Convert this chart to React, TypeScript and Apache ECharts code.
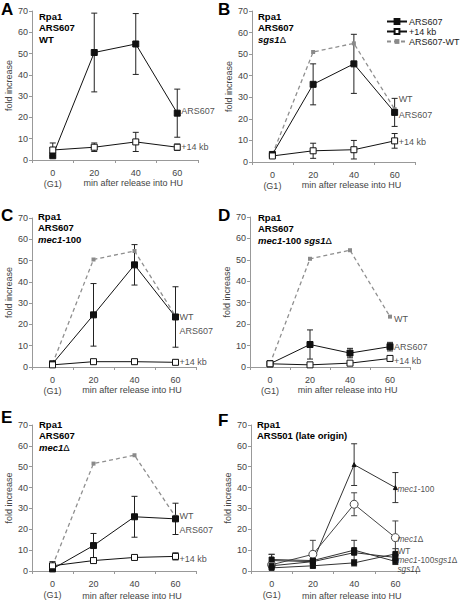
import React, { useEffect, useRef } from 'react';
import * as echarts from 'echarts';

const FONT = '"Liberation Sans", Arial, sans-serif';
const categories = ['0', '20', '40', '60'];

// Panel A (WT)
const aArs = [2, 50.5, 54.5, 22];
const aArsErr = [0, 18.5, 14.3, 11.3];
const aKb = [4.7, 6, 8.5, 6];
const aKbErr = [3.3, 2, 4.5, 1.5];

// Panel B (sgs1Δ)
const bArs = [3.5, 36, 45.5, 23];
const bArsErr = [0.5, 9.5, 13.7, 6.5];
const bKb = [2.8, 5.2, 5.7, 9.8];
const bKbErr = [0.7, 3.5, 4.3, 3.4];
const bWT = [3.5, 51, 55, 24.5];

// Panel C (mec1-100)
const cArs = [1.5, 24.5, 48, 23.5];
const cArsErr = [0.5, 14.7, 9.5, 14.2];
const cKb = [1, 2.5, 2.5, 2.2];
const cKbErr = [0.7, 1, 1, 1];
const cWT = [1.5, 50.5, 54.5, 24];

// Panel D (mec1-100 sgs1Δ)
const dArs = [1.5, 10.5, 6.5, 9.5];
const dArsErr = [0.3, 6.8, 2.2, 2];
const dKb = [1.5, 1, 1.8, 4];
const dKbErr = [0.3, 0.5, 0.5, 0.5];
const dWT = [1.5, 50.5, 54.5, 23.5];

// Panel E (mec1Δ)
const eArs = [1, 12.2, 26, 25];
const eArsErr = [0.5, 5.8, 9.8, 7.5];
const eKb = [2.5, 5, 6.5, 7];
const eKbErr = [2, 0.5, 0.5, 1.7];
const eWT = [2.5, 51.5, 55.5, 26];

// Panel F (ARS501)
const fMec100 = [5, 4.5, 51, 40];
const fMec100Err = [3, 0.8, 10, 7.2];
const fMec1d = [3, 8, 32, 16];
const fMec1dErr = [1, 6.7, 5.5, 8];
const fWT = [5.5, 5, 10, 4.6];
const fWTErr = [2.5, 1, 4.7, 1.5];
const fMs = [2.5, 4.5, 8.8, 6.5];
const fMsErr = [0.5, 1, 1, 1.5];
const fSgs = [1.5, 2.5, 3.9, 8.2];
const fSgsErr = [0.5, 0.7, 1.5, 2.5];

// Annotations at the right end (text, y value)
const aNotes: [string, number][] = [['ARS607', 23], ['+14 kb', 6.2]];
const bNotes: [string, number][] = [['WT', 29], ['ARS607', 22], ['+14 kb', 9.5]];
const cNotes: [string, number][] = [['WT', 23.6], ['ARS607', 17], ['+14 kb', 2.4]];
const dNotes: [string, number][] = [['WT', 22.5], ['ARS607', 9.3], ['+14 kb', 2.6]];
const eNotes: [string, number][] = [['WT', 26.4], ['ARS607', 19.6], ['+14 kb', 5.8]];
const fNotes: [string, number][] = [
  ['{i|mec1}-100', 39.5],
  ['{i|mec1}Δ', 15.5],
  ['WT', 9.8],
  ['{i|mec1}-100{i|sgs1}Δ', 5.3],
  ['{i|sgs1}Δ', 1.0],
];

const grids = [
  { left: 32, top: 11, width: 166, height: 149 },
  { left: 252, top: 11, width: 163, height: 151 },
  { left: 32, top: 218, width: 164, height: 149 },
  { left: 250, top: 217, width: 160, height: 150 },
  { left: 32, top: 425, width: 164, height: 148 },
  { left: 251, top: 425, width: 165, height: 148 },
];

const letters = [
  { t: 'A', x: 1, y: 1 },
  { t: 'B', x: 218, y: 1 },
  { t: 'C', x: 1, y: 207 },
  { t: 'D', x: 218, y: 207 },
  { t: 'E', x: 1, y: 409 },
  { t: 'F', x: 218, y: 412 },
];

const titles = [
  '{b|Rpa1}\n{b|ARS607}\n{b|WT}',
  '{b|Rpa1}\n{b|ARS607}\n{bi|sgs1}{bd|Δ}',
  '{b|Rpa1}\n{b|ARS607}\n{bi|mec1}{b|-100}',
  '{b|Rpa1}\n{b|ARS607}\n{bi|mec1}{b|-100 }{bi|sgs1}{bd|Δ}',
  '{b|Rpa1}\n{b|ARS607}\n{bi|mec1}{bd|Δ}',
  '{b|Rpa1}\n{b|ARS501 (late origin)}',
];
const titlePos = [
  { x: 39, y: 11 },
  { x: 258, y: 11 },
  { x: 38, y: 211 },
  { x: 258, y: 212 },
  { x: 39, y: 419 },
  { x: 257, y: 419 },
];

const titleRich = {
  b: { fontFamily: FONT, fontSize: 9.5, fontWeight: 'bold', color: '#111', lineHeight: 11.5 },
  bi: { fontFamily: FONT, fontSize: 9.5, fontWeight: 'bold', fontStyle: 'italic', color: '#111', lineHeight: 11.5 },
  bd: { fontFamily: FONT, fontSize: 9.5, fontWeight: 'normal', color: '#111', lineHeight: 11.5 },
};

function lineSeries(name: string, data: number[], gi: number, kind: 'filled' | 'open' | 'wt' | 'tri' | 'circle' | 'small') {
  const base: any = {
    type: 'line',
    name,
    xAxisIndex: gi,
    yAxisIndex: gi,
    data,
    z: 3,
    silent: true,
    lineStyle: { color: '#111', width: 1 },
    itemStyle: { color: '#111', borderColor: '#111', borderWidth: 1 },
    symbol: 'rect',
    symbolSize: 6,
  };
  if (kind === 'open') {
    base.itemStyle = { color: '#fff', borderColor: '#111', borderWidth: 1 };
  } else if (kind === 'wt') {
    base.symbolSize = 4;
    base.z = 2;
    base.itemStyle = { color: '#8a8a8a', borderColor: '#8a8a8a', borderWidth: 0 };
    base.lineStyle = { color: '#8f8f8f', width: 1.3, type: [4, 3] };
  } else if (kind === 'tri') {
    base.symbol = 'triangle';
    base.symbolSize = 4;
    base.lineStyle = { color: '#333', width: 1 };
  } else if (kind === 'circle') {
    base.symbol = 'circle';
    base.symbolSize = 8;
    base.itemStyle = { color: '#fff', borderColor: '#444', borderWidth: 1 };
    base.lineStyle = { color: '#444', width: 1 };
  } else if (kind === 'small') {
    base.symbolSize = 5;
    base.lineStyle = { color: '#333', width: 1 };
  }
  return base;
}

function errSeries(name: string, vals: number[], errs: number[], gi: number, color = '#222') {
  return {
    type: 'custom',
    name,
    xAxisIndex: gi,
    yAxisIndex: gi,
    z: 1,
    silent: true,
    data: vals.map((v, i) => [i, v - errs[i], v + errs[i]]),
    encode: { x: 0, y: [1, 2] },
    renderItem: (params: any, api: any) => {
      const x = api.value(0);
      const lo = api.coord([x, api.value(1)]);
      const hi = api.coord([x, api.value(2)]);
      const w = 3;
      const st = { stroke: color, lineWidth: 1 };
      return {
        type: 'group',
        children: [
          { type: 'line', shape: { x1: lo[0], y1: lo[1], x2: hi[0], y2: hi[1] }, style: st },
          { type: 'line', shape: { x1: lo[0] - w, y1: lo[1], x2: lo[0] + w, y2: lo[1] }, style: st },
          { type: 'line', shape: { x1: hi[0] - w, y1: hi[1], x2: hi[0] + w, y2: hi[1] }, style: st },
        ],
      };
    },
  };
}

function noteSeries(notes: [string, number][], gi: number, size = 9, distance = 4) {
  return {
    type: 'scatter',
    xAxisIndex: gi,
    yAxisIndex: gi,
    symbolSize: 0,
    silent: true,
    z: 4,
    data: notes.map(([t, y]) => ({ value: [3, y], name: t })),
    label: {
      show: true,
      position: 'right',
      distance,
      formatter: (p: any) => p.name,
      fontFamily: FONT,
      fontSize: size,
      lineHeight: size,
      color: '#222',
      rich: {
        i: { fontFamily: FONT, fontSize: size, lineHeight: size, fontStyle: 'italic', color: '#222' },
      },
    },
  };
}

export default function App() {
  const ref = useRef<HTMLDivElement>(null);
  useEffect(() => {
    if (!ref.current) return;
    const chart = echarts.init(ref.current, undefined, { renderer: 'svg' });

    const xAxis = grids.map((_, gi) => ({
      type: 'category',
      gridIndex: gi,
      data: categories,
      boundaryGap: true,
      axisLine: { lineStyle: { color: '#999', width: 1 } },
      axisTick: { show: true, length: 3, alignWithLabel: false, lineStyle: { color: '#999' } },
      axisLabel: {
        fontFamily: FONT,
        fontSize: 9,
        color: '#444',
        margin: 7,
        lineHeight: 11,
        interval: 0,
        formatter: (v: string) => (v === '0' ? '0\n(G1)' : v),
      },
      splitLine: { show: false },
    }));

    const yAxis = grids.map((_, gi) => ({
      type: 'value',
      gridIndex: gi,
      min: 0,
      max: 70,
      interval: 10,
      axisLine: { show: true, lineStyle: { color: '#999', width: 1 } },
      axisTick: { show: true, length: 3, lineStyle: { color: '#999' } },
      axisLabel: { fontFamily: FONT, fontSize: 9, color: '#444', margin: 4 },
      splitLine: { show: false },
      name: 'fold increase',
      nameLocation: 'middle',
      nameGap: 19,
      nameTextStyle: { fontFamily: FONT, fontSize: 9, color: '#444' },
    }));

    const series: any[] = [
      // A
      errSeries('aArsE', aArs, aArsErr, 0),
      errSeries('aKbE', aKb, aKbErr, 0),
      lineSeries('A ARS607', aArs, 0, 'filled'),
      lineSeries('A +14 kb', aKb, 0, 'open'),
      noteSeries(aNotes, 0),
      // B
      errSeries('bArsE', bArs, bArsErr, 1),
      errSeries('bKbE', bKb, bKbErr, 1),
      lineSeries('ARS607-WT', bWT, 1, 'wt'),
      lineSeries('ARS607', bArs, 1, 'filled'),
      lineSeries('+14 kb', bKb, 1, 'open'),
      noteSeries(bNotes, 1),
      // C
      errSeries('cArsE', cArs, cArsErr, 2),
      errSeries('cKbE', cKb, cKbErr, 2),
      lineSeries('C WT', cWT, 2, 'wt'),
      lineSeries('C ARS607', cArs, 2, 'filled'),
      lineSeries('C +14 kb', cKb, 2, 'open'),
      noteSeries(cNotes, 2),
      // D
      errSeries('dArsE', dArs, dArsErr, 3),
      errSeries('dKbE', dKb, dKbErr, 3),
      lineSeries('D WT', dWT, 3, 'wt'),
      lineSeries('D ARS607', dArs, 3, 'filled'),
      lineSeries('D +14 kb', dKb, 3, 'open'),
      noteSeries(dNotes, 3),
      // E
      errSeries('eArsE', eArs, eArsErr, 4),
      errSeries('eKbE', eKb, eKbErr, 4),
      lineSeries('E WT', eWT, 4, 'wt'),
      lineSeries('E ARS607', eArs, 4, 'filled'),
      lineSeries('E +14 kb', eKb, 4, 'open'),
      noteSeries(eNotes, 4),
      // F
      errSeries('fMec100E', fMec100, fMec100Err, 5, '#333'),
      errSeries('fMec1dE', fMec1d, fMec1dErr, 5, '#444'),
      errSeries('fWTE', fWT, fWTErr, 5, '#333'),
      errSeries('fMsE', fMs, fMsErr, 5, '#333'),
      errSeries('fSgsE', fSgs, fSgsErr, 5, '#333'),
      lineSeries('F mec1-100', fMec100, 5, 'tri'),
      lineSeries('F mec1Δ', fMec1d, 5, 'circle'),
      lineSeries('F WT', fWT, 5, 'small'),
      lineSeries('F mec1-100sgs1Δ', fMs, 5, 'small'),
      lineSeries('F sgs1Δ', fSgs, 5, 'small'),
      noteSeries(fNotes, 5, 8.3, 2),
    ];

    const graphic: any[] = [];
    letters.forEach((l) => {
      graphic.push({
        type: 'text',
        left: l.x,
        top: l.y,
        style: { text: l.t, fontFamily: FONT, fontSize: 17, fontWeight: 'bold', fill: '#000' },
      });
    });
    titles.forEach((t, i) => {
      graphic.push({
        type: 'text',
        left: titlePos[i].x,
        top: titlePos[i].y,
        style: { text: t, rich: titleRich, fontFamily: FONT, fontSize: 9.5 },
      });
    });
    grids.forEach((g) => {
      graphic.push({
        type: 'text',
        x: g.left + g.width * 0.61,
        y: g.top + g.height + 23,
        style: {
          text: 'min after release into HU',
          fontFamily: FONT,
          fontSize: 9,
          fill: '#444',
          align: 'center',
          verticalAlign: 'middle',
        },
      });
    });

    chart.setOption({
      animation: false,
      backgroundColor: '#fff',
      grid: grids,
      xAxis,
      yAxis,
      legend: {
        data: ['ARS607', '+14 kb', 'ARS607-WT'],
        orient: 'vertical',
        left: 381,
        top: 12,
        itemWidth: 20,
        itemHeight: 6,
        itemGap: 1,
        selectedMode: false,
        textStyle: { fontFamily: FONT, fontSize: 9, color: '#222', padding: [0, 0, 0, -3] },
      },
      series,
      graphic,
    });
    return () => chart.dispose();
  }, []);
  return (
    <div
      ref={ref}
      style={{ position: 'fixed', left: 0, top: 0, width: 461, height: 600, background: '#fff' }}
    />
  );
}
